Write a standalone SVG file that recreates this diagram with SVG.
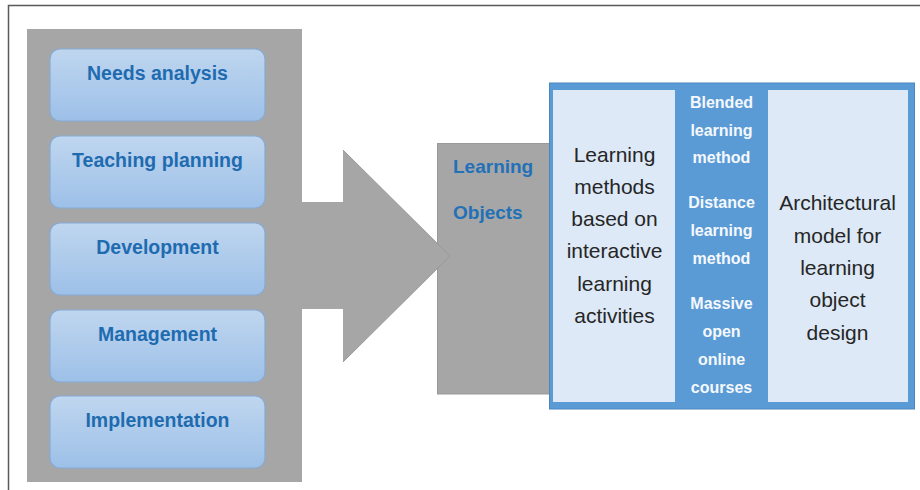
<svg xmlns="http://www.w3.org/2000/svg" width="920" height="490" viewBox="0 0 920 490">
  <defs>
    <linearGradient id="boxGrad" x1="0" y1="0" x2="0" y2="1">
      <stop offset="0" stop-color="#BFD6EF"/>
      <stop offset="1" stop-color="#9DC0E8"/>
    </linearGradient>
    <style>
      .frame { stroke: #5a5a5a; stroke-width: 1.5; fill: none; }
      .gray { fill: #A6A6A6; }
      .grayEdge { fill: #A6A6A6; stroke: #999999; stroke-width: 1; }
      .step { fill: url(#boxGrad); stroke: #86AAD6; stroke-width: 1.2; }
      .stepText { font-family: "Liberation Sans", Arial, sans-serif; font-weight: bold; font-size: 19.5px; fill: #1F6BB0; text-anchor: middle; }
      .loText { font-family: "Liberation Sans", Arial, sans-serif; font-weight: bold; font-size: 19px; fill: #2271B8; }
      .panel { fill: #DDE9F6; }
      .darkText { font-family: "Liberation Sans", Arial, sans-serif; font-size: 21px; fill: #262626; text-anchor: middle; }
      .whiteText { font-family: "Liberation Sans", Arial, sans-serif; font-weight: bold; font-size: 16px; fill: #F4F8FC; text-anchor: middle; }
    </style>
  </defs>

  <rect width="920" height="490" fill="#FFFFFF"/>
  <path class="frame" d="M8.5,490 L8.5,5.5 L920,5.5"/>

  <g id="process-panel">
    <rect class="gray" x="27" y="29" width="275" height="453"/>
  </g>

  <g id="needs-analysis">
    <rect class="step" x="50" y="49" width="215" height="72" rx="10"/>
    <text class="stepText" x="157.5" y="79.5">Needs analysis</text>
  </g>
  <g id="teaching-planning">
    <rect class="step" x="50" y="136" width="215" height="72" rx="10"/>
    <text class="stepText" x="157.5" y="167">Teaching planning</text>
  </g>
  <g id="development">
    <rect class="step" x="50" y="223" width="215" height="72" rx="10"/>
    <text class="stepText" x="157.5" y="254">Development</text>
  </g>
  <g id="management">
    <rect class="step" x="50" y="310" width="215" height="72" rx="10"/>
    <text class="stepText" x="157.5" y="341">Management</text>
  </g>
  <g id="implementation">
    <rect class="step" x="50" y="396" width="215" height="72" rx="10"/>
    <text class="stepText" x="157.5" y="426.5">Implementation</text>
  </g>

  <g id="learning-objects">
    <rect class="grayEdge" x="437.5" y="143.5" width="120" height="250.5"/>
    <text class="loText" x="453" y="173">Learning</text>
    <text class="loText" x="453" y="219">Objects</text>
  </g>

  <g id="connectors">
    <polygon class="gray" points="300,202 343,202 343,150 450,256 343,362 343,309 300,309"/>
    <polyline points="343,150 450,256 343,362" fill="none" stroke="#999999" stroke-width="1"/>
  </g>

  <g id="learning-architecture">
    <rect x="549.5" y="83" width="365" height="326" fill="#5B9BD5" stroke="#4A86C0" stroke-width="1"/>
    <rect class="panel" x="553" y="90" width="122" height="312"/>
    <rect class="panel" x="768" y="90" width="140" height="312"/>

    <text class="darkText" x="614.5" y="162">Learning</text>
    <text class="darkText" x="614.5" y="194">methods</text>
    <text class="darkText" x="614.5" y="226">based on</text>
    <text class="darkText" x="614.5" y="258">interactive</text>
    <text class="darkText" x="614.5" y="291">learning</text>
    <text class="darkText" x="614.5" y="323">activities</text>

    <text class="whiteText" x="721.5" y="108">Blended</text>
    <text class="whiteText" x="721.5" y="136">learning</text>
    <text class="whiteText" x="721.5" y="163">method</text>
    <text class="whiteText" x="721.5" y="208">Distance</text>
    <text class="whiteText" x="721.5" y="236">learning</text>
    <text class="whiteText" x="721.5" y="264">method</text>
    <text class="whiteText" x="721.5" y="309">Massive</text>
    <text class="whiteText" x="721.5" y="337">open</text>
    <text class="whiteText" x="721.5" y="365">online</text>
    <text class="whiteText" x="721.5" y="393">courses</text>

    <text class="darkText" x="837.5" y="210">Architectural</text>
    <text class="darkText" x="837.5" y="243">model for</text>
    <text class="darkText" x="837.5" y="275">learning</text>
    <text class="darkText" x="837.5" y="307">object</text>
    <text class="darkText" x="837.5" y="340">design</text>
  </g>
</svg>
